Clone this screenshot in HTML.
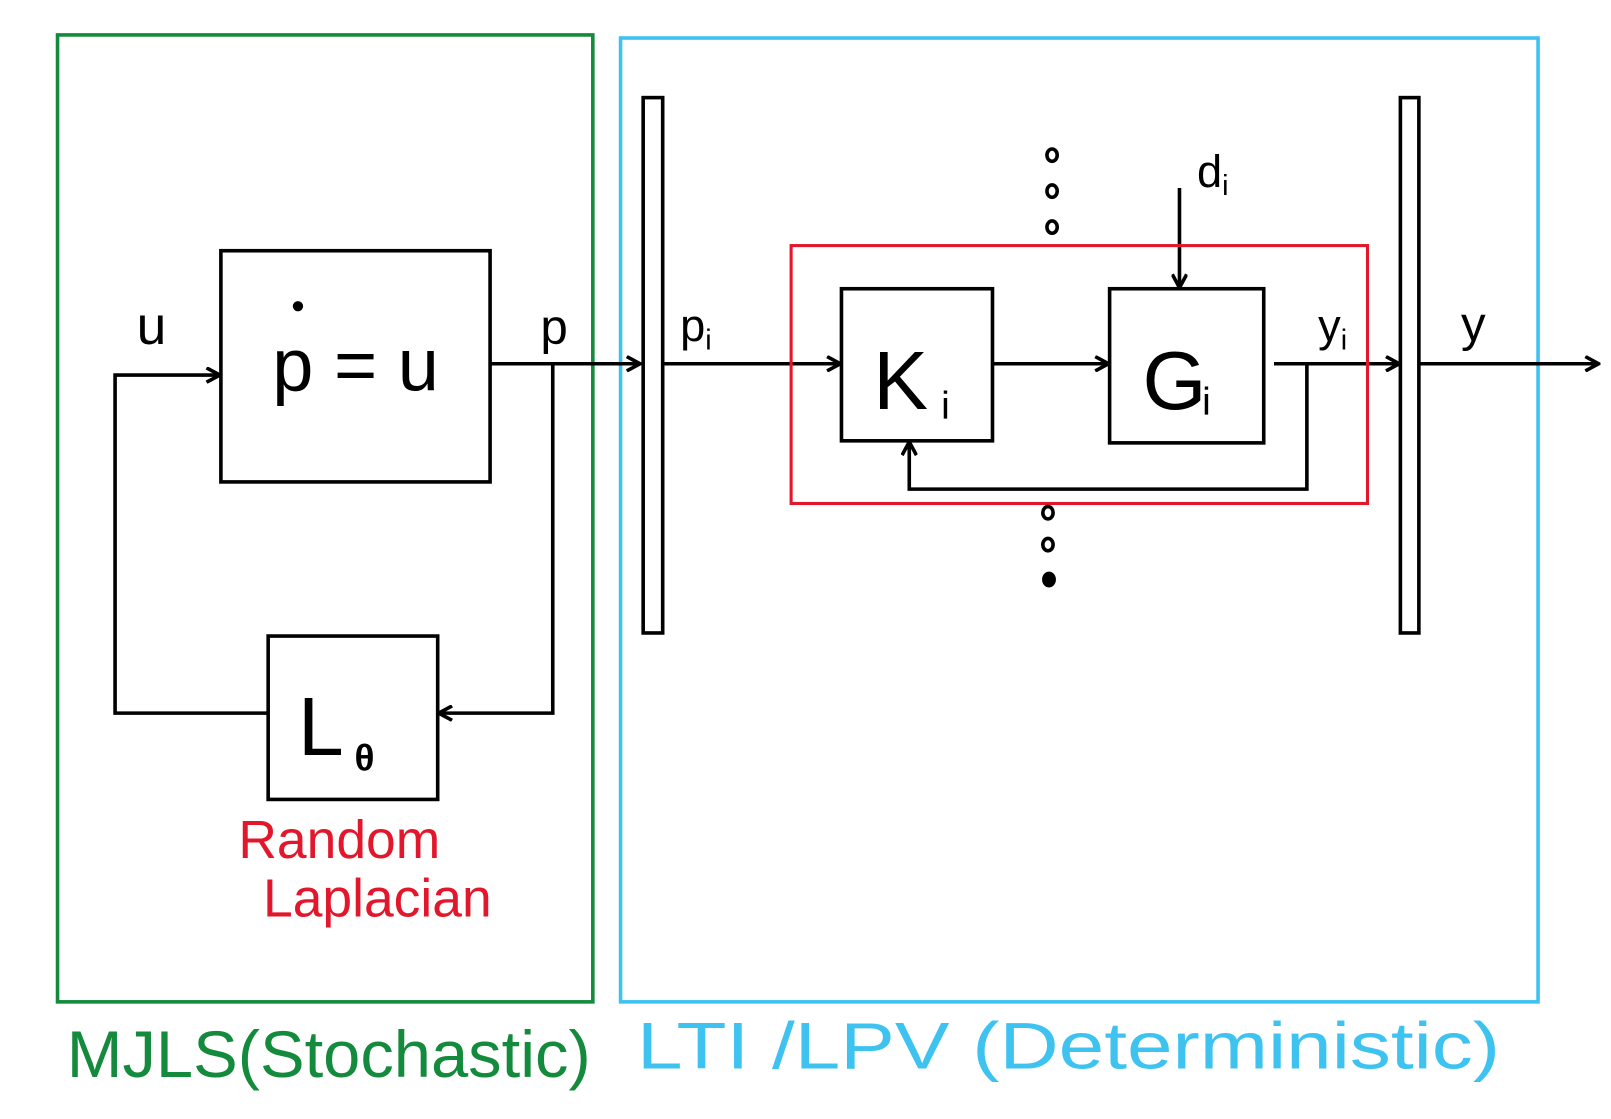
<!DOCTYPE html>
<html><head><meta charset="utf-8"><style>
html,body{margin:0;padding:0;background:#fff;}
svg{display:block;}
text{font-family:"Liberation Sans",sans-serif;}
</style></head><body>
<svg width="1611" height="1119" viewBox="0 0 1568 1089" preserveAspectRatio="none" xmlns="http://www.w3.org/2000/svg">
<defs>
<marker id="ah" markerWidth="16" markerHeight="16" refX="13" refY="8" orient="auto" markerUnits="userSpaceOnUse">
<path d="M1,1 L14,8 L1,15" fill="none" stroke="#000" stroke-width="3.5"/>
</marker>
</defs>
<rect x="56" y="34" width="521" height="941" fill="none" stroke="#138a3c" stroke-width="3.5"/>
<rect x="604" y="37" width="893" height="938" fill="none" stroke="#3ec3f1" stroke-width="3.5"/>

<rect x="215" y="244" width="262" height="225" fill="none" stroke="#000" stroke-width="3.5"/>
<text x="265" y="380" font-size="72" fill="#000">p = u</text>
<circle cx="290" cy="298" r="5" fill="#000"/>

<rect x="261" y="619" width="165" height="159" fill="none" stroke="#000" stroke-width="3.5"/>
<text x="290" y="735" font-size="80" fill="#000">L</text>
<text x="345" y="750" font-size="36" font-weight="bold" fill="#000">θ</text>
<text x="232" y="835" font-size="52" fill="#e3172b">Random</text>
<text x="256" y="892" font-size="52" fill="#e3172b">Laplacian</text>

<g stroke="#000" stroke-width="3.5" fill="none">
<polyline points="261,694 112,694 112,365 213,365" marker-end="url(#ah)"/>
<line x1="477" y1="354" x2="622" y2="354" marker-end="url(#ah)"/>
<polyline points="538,354 538,694 428,694" marker-end="url(#ah)"/>
<line x1="645" y1="354" x2="817" y2="354" marker-end="url(#ah)"/>
<line x1="966" y1="354" x2="1078" y2="354" marker-end="url(#ah)"/>
<line x1="1240" y1="354" x2="1361" y2="354" marker-end="url(#ah)"/>
<line x1="1381" y1="354" x2="1555" y2="354" marker-end="url(#ah)"/>
<polyline points="1272,354 1272,476 885,476 885,431" marker-end="url(#ah)"/>
<line x1="1148" y1="183" x2="1148" y2="279" marker-end="url(#ah)"/>
</g>

<rect x="626" y="95" width="19" height="521" fill="none" stroke="#000" stroke-width="3.5"/>
<rect x="1363" y="95" width="18" height="521" fill="none" stroke="#000" stroke-width="3.5"/>
<rect x="770" y="239" width="561" height="251" fill="none" stroke="#e3172b" stroke-width="3"/>
<rect x="819" y="281" width="147" height="148" fill="none" stroke="#000" stroke-width="3.5"/>
<rect x="1080" y="281" width="150" height="150" fill="none" stroke="#000" stroke-width="3.5"/>
<text x="850" y="398" font-size="80" fill="#000">K</text>
<text x="916" y="408" font-size="38" fill="#000">i</text>
<text x="1112" y="398" font-size="80" fill="#000">G</text>
<text x="1170" y="404" font-size="38" fill="#000">i</text>

<g fill="none" stroke="#000" stroke-width="3.5">
<ellipse cx="1024" cy="151" rx="5" ry="6"/>
<ellipse cx="1024" cy="186" rx="5" ry="6"/>
<ellipse cx="1024" cy="221" rx="5" ry="6"/>
<ellipse cx="1020" cy="499" rx="5" ry="6"/>
<ellipse cx="1020" cy="530" rx="5" ry="6"/>
<ellipse cx="1021" cy="564" rx="5" ry="6" fill="#000"/>
</g>

<text x="133" y="335" font-size="52" fill="#000">u</text>
<text x="526" y="335" font-size="48" fill="#000">p</text>
<text x="662" y="332" font-size="44" fill="#000">p<tspan font-size="28" dy="8">i</tspan></text>
<text x="1165" y="182" font-size="44" fill="#000">d<tspan font-size="28" dy="8">i</tspan></text>
<text x="1283" y="332" font-size="44" fill="#000">y<tspan font-size="28" dy="8">i</tspan></text>
<text x="1422" y="332" font-size="48" fill="#000">y</text>

<text x="65" y="1048" font-size="64" fill="#138a3c" textLength="510" lengthAdjust="spacingAndGlyphs">MJLS(Stochastic)</text>
<text x="620" y="1040" font-size="64" fill="#3ec3f1" textLength="840" lengthAdjust="spacingAndGlyphs">LTI /LPV (Deterministic)</text>
</svg>
</body></html>
